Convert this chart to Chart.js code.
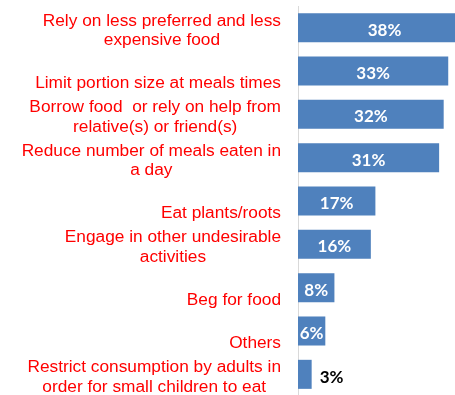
<!DOCTYPE html>
<html>
<head>
<meta charset="utf-8">
<script src="https://cdn.jsdelivr.net/npm/chart.js@4/dist/chart.umd.min.js"></script>
<style>
  html, body { margin: 0; padding: 0; background: #ffffff; overflow: hidden; }
  #wrap { position: relative; width: 471px; height: 396px; }
</style>
</head>
<body>
<div id="wrap"><canvas id="chart"></canvas></div>
<script>
// Coping strategies (each label split into its display lines)
const categories = [
  ["Rely on less preferred and less", "expensive food"],
  ["Limit portion size at meals times"],
  ["Borrow food  or rely on help from", "relative(s) or friend(s)"],
  ["Reduce number of meals eaten in", "a day"],
  ["Eat plants/roots"],
  ["Engage in other undesirable", "activities"],
  ["Beg for food"],
  ["Others"],
  ["Restrict consumption by adults in", "order for small children to eat"]
];

// Share of households using each strategy (%)
const values = [38, 33, 32, 31, 17, 16, 8, 6, 3];

const BAR_COLOR = '#4F81BD';
const LABEL_COLOR = '#FF0000';

// Category labels: right-aligned blocks with centred lines, bottom-anchored
const categoryLabels = {
  id: 'categoryLabels',
  afterDraw(chart) {
    const { ctx, chartArea, scales: { y } } = chart;
    const lineGap = 19.3;
    ctx.save();
    ctx.font = '17.3px "Liberation Sans", Arial, sans-serif';
    ctx.fillStyle = LABEL_COLOR;
    ctx.textAlign = 'center';
    ctx.textBaseline = 'alphabetic';
    const right = chartArea.left - 17;
    chart.data.labels.forEach((lines, i) => {
      const yc = y.getPixelForTick(i);
      const w = Math.max(...lines.map(l => ctx.measureText(l).width));
      const cx = right - w / 2;
      const start = lines.length === 1 ? 1 : 0;
      lines.forEach((line, j) => {
        ctx.fillText(line, cx, yc - 2 + (start + j) * lineGap);
      });
    });
    ctx.restore();
  }
};

// Percentage labels on the bars (white inside, black beside the shortest bar)
const valueLabels = {
  id: 'valueLabels',
  afterDatasetsDraw(chart) {
    const { ctx, chartArea } = chart;
    const meta = chart.getDatasetMeta(0);
    const data = chart.data.datasets[0].data;
    ctx.save();
    ctx.beginPath();
    ctx.rect(chartArea.left, 0, chart.width - chartArea.left, chart.height);
    ctx.clip();
    ctx.font = 'bold 17px Lato, "Liberation Sans", sans-serif';
    ctx.textBaseline = 'alphabetic';
    meta.data.forEach((bar, i) => {
      const text = data[i] + '%';
      const tw = ctx.measureText(text).width;
      const len = bar.x - bar.base;
      if (len > tw * 0.7) {
        ctx.fillStyle = '#FFFFFF';
        ctx.textAlign = 'center';
        ctx.fillText(text, (bar.x + bar.base) / 2, bar.y + 8);
      } else {
        ctx.fillStyle = '#000000';
        ctx.textAlign = 'left';
        ctx.fillText(text, bar.x + 8, bar.y + 9);
      }
    });
    ctx.restore();
  }
};

new Chart(document.getElementById('chart'), {
  type: 'bar',
  data: {
    labels: categories,
    datasets: [{
      data: values,
      backgroundColor: BAR_COLOR,
      borderWidth: 0,
      categoryPercentage: 1,
      barPercentage: 0.67
    }]
  },
  options: {
    indexAxis: 'y',
    responsive: true,
    maintainAspectRatio: false,
    animation: false,
    layout: { padding: { top: 6, right: 0, bottom: 0, left: 0 } },
    plugins: {
      legend: { display: false },
      tooltip: { enabled: false }
    },
    scales: {
      x: {
        display: false,
        min: 0,
        max: 38
      },
      y: {
        display: true,
        ticks: { display: false },
        grid: { display: false },
        border: { display: true, color: '#D9D9D9', width: 1 },
        afterFit(scale) { scale.width = 298; }
      }
    }
  },
  plugins: [categoryLabels, valueLabels]
});
</script>
</body>
</html>
